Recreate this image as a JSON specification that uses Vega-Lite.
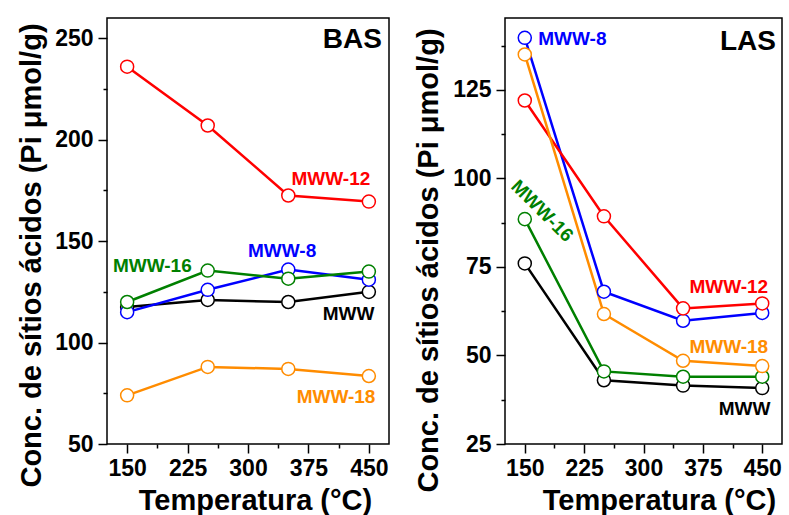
{
  "$schema": "https://vega.github.io/schema/vega-lite/v6.json",
  "padding": {"left": 16, "top": 17, "right": 5, "bottom": 0},
  "background": "white",
  "config": {
    "view": {"stroke": "black", "strokeWidth": 1.5},
    "font": "Liberation Sans",
    "axis": {"grid": false, "domain": false, "tickColor": "black", "labelColor": "black", "titleColor": "black", "labelFont": "Liberation Sans", "titleFont": "Liberation Sans", "labelFontWeight": "bold", "titleFontWeight": "bold", "labelFontSize": 23, "titleFontSize": 29, "tickWidth": 1.5}
  },
  "datasets": {
    "bas": [
      {"serie": "MWW", "t": 150, "v": 117.5}, {"serie": "MWW", "t": 250, "v": 121}, {"serie": "MWW", "t": 350, "v": 120}, {"serie": "MWW", "t": 450, "v": 125},
      {"serie": "MWW-8", "t": 150, "v": 115}, {"serie": "MWW-8", "t": 250, "v": 126}, {"serie": "MWW-8", "t": 350, "v": 136}, {"serie": "MWW-8", "t": 450, "v": 131},
      {"serie": "MWW-12", "t": 150, "v": 236}, {"serie": "MWW-12", "t": 250, "v": 207}, {"serie": "MWW-12", "t": 350, "v": 172.5}, {"serie": "MWW-12", "t": 450, "v": 169.5},
      {"serie": "MWW-16", "t": 150, "v": 120}, {"serie": "MWW-16", "t": 250, "v": 135.5}, {"serie": "MWW-16", "t": 350, "v": 131.5}, {"serie": "MWW-16", "t": 450, "v": 135},
      {"serie": "MWW-18", "t": 150, "v": 74}, {"serie": "MWW-18", "t": 250, "v": 88}, {"serie": "MWW-18", "t": 350, "v": 87}, {"serie": "MWW-18", "t": 450, "v": 83.5}
    ],
    "las": [
      {"serie": "MWW", "t": 150, "v": 76}, {"serie": "MWW", "t": 250, "v": 43}, {"serie": "MWW", "t": 350, "v": 41.5}, {"serie": "MWW", "t": 450, "v": 40.8},
      {"serie": "MWW-8", "t": 150, "v": 139.7}, {"serie": "MWW-8", "t": 250, "v": 68}, {"serie": "MWW-8", "t": 350, "v": 59.8}, {"serie": "MWW-8", "t": 450, "v": 62},
      {"serie": "MWW-12", "t": 150, "v": 122}, {"serie": "MWW-12", "t": 250, "v": 89.3}, {"serie": "MWW-12", "t": 350, "v": 63.3}, {"serie": "MWW-12", "t": 450, "v": 64.7},
      {"serie": "MWW-16", "t": 150, "v": 88.5}, {"serie": "MWW-16", "t": 250, "v": 45.5}, {"serie": "MWW-16", "t": 350, "v": 44}, {"serie": "MWW-16", "t": 450, "v": 44},
      {"serie": "MWW-18", "t": 150, "v": 135}, {"serie": "MWW-18", "t": 250, "v": 61.7}, {"serie": "MWW-18", "t": 350, "v": 48.5}, {"serie": "MWW-18", "t": 450, "v": 47}
    ],
    "basLabels": [
      {"serie": "MWW-12", "t": 354, "v": 177.6, "txt": "MWW-12"},
      {"serie": "MWW-8", "t": 300, "v": 142, "txt": "MWW-8"},
      {"serie": "MWW-16", "t": 132.4, "v": 134.7, "txt": "MWW-16"},
      {"serie": "MWW", "t": 392.7, "v": 111, "txt": "MWW"},
      {"serie": "MWW-18", "t": 360.4, "v": 70.2, "txt": "MWW-18"}
    ],
    "lasLabels": [
      {"serie": "MWW-8", "t": 167, "v": 137.7, "txt": "MWW-8"},
      {"serie": "MWW-12", "t": 358, "v": 67.7, "txt": "MWW-12"},
      {"serie": "MWW-18", "t": 358, "v": 50.7, "txt": "MWW-18"},
      {"serie": "MWW", "t": 395, "v": 33.2, "txt": "MWW"}
    ]
  },
  "spacing": 23,
  "hconcat": [
    {
      "width": 282,
      "height": 426,
      "data": {"name": "bas"},
      "resolve": {"axis": {"x": "independent", "y": "independent"}},
      "layer": [
        {
          "mark": {"type": "point", "opacity": 0},
          "encoding": {
            "x": {"field": "t", "type": "quantitative", "scale": {"domain": [125, 475], "nice": false, "zero": false}, "axis": {"orient": "bottom", "values": [187.5, 262.5, 337.5, 412.5], "labels": false, "tickSize": 4, "title": null}},
            "y": {"field": "v", "type": "quantitative", "scale": {"domain": [50, 260], "nice": false, "zero": false}, "axis": {"orient": "left", "values": [75, 125, 175, 225], "labels": false, "tickSize": 4, "title": null}}
          }
        },
        {
          "mark": {"type": "line", "strokeWidth": 2.5},
          "encoding": {
            "x": {"field": "t", "type": "quantitative", "axis": {"orient": "bottom", "values": [150, 225, 300, 375, 450], "tickSize": 9, "labelPadding": 4, "title": "Temperatura (°C)", "titleX": 148, "titlePadding": 6}},
            "y": {"field": "v", "type": "quantitative", "axis": {"orient": "left", "values": [50, 100, 150, 200, 250], "tickSize": 9, "labelPadding": 5, "title": "Conc. de sítios ácidos (Pi μmol/g)", "titleY": 237, "titlePadding": 8}},
            "color": {"field": "serie", "type": "nominal", "scale": {"domain": ["MWW", "MWW-8", "MWW-12", "MWW-16", "MWW-18"], "range": ["#000000", "#0000FF", "#FF0000", "#008000", "#FF8C00"]}, "legend": null},
            "detail": {"field": "serie"}
          }
        },
        {
          "mark": {"type": "point", "shape": "circle", "size": 170, "filled": false, "fill": "white", "fillOpacity": 1, "strokeWidth": 1.5, "opacity": 1},
          "encoding": {
            "x": {"field": "t", "type": "quantitative", "axis": null},
            "y": {"field": "v", "type": "quantitative", "axis": null},
            "stroke": {"field": "serie", "type": "nominal", "scale": {"domain": ["MWW", "MWW-8", "MWW-12", "MWW-16", "MWW-18"], "range": ["#000000", "#0000FF", "#FF0000", "#008000", "#FF8C00"]}, "legend": null}
          }
        },
        {
          "data": {"name": "basLabels"},
          "mark": {"type": "text", "align": "left", "baseline": "alphabetic", "fontSize": 19, "fontWeight": "bold"},
          "encoding": {
            "x": {"field": "t", "type": "quantitative", "axis": null},
            "y": {"field": "v", "type": "quantitative", "axis": null},
            "text": {"field": "txt"},
            "color": {"field": "serie", "type": "nominal", "scale": {"domain": ["MWW", "MWW-8", "MWW-12", "MWW-16", "MWW-18"], "range": ["#000000", "#0000FF", "#FF0000", "#008000", "#FF8C00"]}, "legend": null}
          }
        },
        {
          "data": {"values": [{"t": 392.7, "v": 245, "txt": "BAS"}]},
          "mark": {"type": "text", "align": "left", "baseline": "alphabetic", "fontSize": 28, "fontWeight": "bold", "color": "black"},
          "encoding": {
            "x": {"field": "t", "type": "quantitative", "axis": null},
            "y": {"field": "v", "type": "quantitative", "axis": null},
            "text": {"field": "txt"}
          }
        }
      ]
    },
    {
      "width": 277,
      "height": 426,
      "data": {"name": "las"},
      "resolve": {"axis": {"x": "independent", "y": "independent"}},
      "layer": [
        {
          "mark": {"type": "point", "opacity": 0},
          "encoding": {
            "x": {"field": "t", "type": "quantitative", "scale": {"domain": [125, 475], "nice": false, "zero": false}, "axis": {"orient": "bottom", "values": [187.5, 262.5, 337.5, 412.5], "labels": false, "tickSize": 4, "title": null}},
            "y": {"field": "v", "type": "quantitative", "scale": {"domain": [25, 145.3], "nice": false, "zero": false}, "axis": {"orient": "left", "values": [37.5, 62.5, 87.5, 112.5, 137.5], "labels": false, "tickSize": 4, "title": null}}
          }
        },
        {
          "mark": {"type": "line", "strokeWidth": 2.5},
          "encoding": {
            "x": {"field": "t", "type": "quantitative", "axis": {"orient": "bottom", "values": [150, 225, 300, 375, 450], "tickSize": 9, "labelPadding": 4, "title": "Temperatura (°C)", "titleX": 154, "titlePadding": 6}},
            "y": {"field": "v", "type": "quantitative", "axis": {"orient": "left", "values": [25, 50, 75, 100, 125], "tickSize": 9, "labelPadding": 5, "title": "Conc. de sítios ácidos (Pi μmol/g)", "titleY": 242, "titlePadding": 9}},
            "color": {"field": "serie", "type": "nominal", "scale": {"domain": ["MWW", "MWW-8", "MWW-12", "MWW-16", "MWW-18"], "range": ["#000000", "#0000FF", "#FF0000", "#008000", "#FF8C00"]}, "legend": null},
            "detail": {"field": "serie"}
          }
        },
        {
          "mark": {"type": "point", "shape": "circle", "size": 170, "filled": false, "fill": "white", "fillOpacity": 1, "strokeWidth": 1.5, "opacity": 1},
          "encoding": {
            "x": {"field": "t", "type": "quantitative", "axis": null},
            "y": {"field": "v", "type": "quantitative", "axis": null},
            "stroke": {"field": "serie", "type": "nominal", "scale": {"domain": ["MWW", "MWW-8", "MWW-12", "MWW-16", "MWW-18"], "range": ["#000000", "#0000FF", "#FF0000", "#008000", "#FF8C00"]}, "legend": null}
          }
        },
        {
          "data": {"name": "lasLabels"},
          "mark": {"type": "text", "align": "left", "baseline": "alphabetic", "fontSize": 19, "fontWeight": "bold"},
          "encoding": {
            "x": {"field": "t", "type": "quantitative", "axis": null},
            "y": {"field": "v", "type": "quantitative", "axis": null},
            "text": {"field": "txt"},
            "color": {"field": "serie", "type": "nominal", "scale": {"domain": ["MWW", "MWW-8", "MWW-12", "MWW-16", "MWW-18"], "range": ["#000000", "#0000FF", "#FF0000", "#008000", "#FF8C00"]}, "legend": null}
          }
        },
        {
          "data": {"values": [{"t": 171.9, "v": 90.8, "txt": "MWW-16"}]},
          "mark": {"type": "text", "align": "center", "baseline": "middle", "fontSize": 19, "fontWeight": "bold", "angle": 45, "color": "#008000"},
          "encoding": {
            "x": {"field": "t", "type": "quantitative", "axis": null},
            "y": {"field": "v", "type": "quantitative", "axis": null},
            "text": {"field": "txt"}
          }
        },
        {
          "data": {"values": [{"t": 396.6, "v": 136.3, "txt": "LAS"}]},
          "mark": {"type": "text", "align": "left", "baseline": "alphabetic", "fontSize": 28, "fontWeight": "bold", "color": "black"},
          "encoding": {
            "x": {"field": "t", "type": "quantitative", "axis": null},
            "y": {"field": "v", "type": "quantitative", "axis": null},
            "text": {"field": "txt"}
          }
        }
      ]
    }
  ]
}
